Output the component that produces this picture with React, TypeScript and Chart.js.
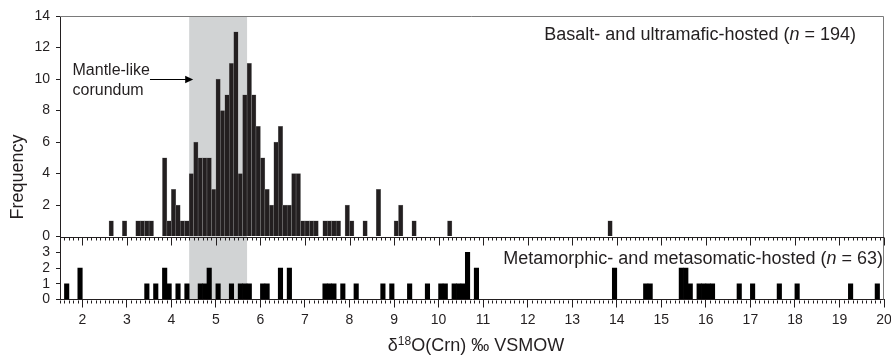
import React, { useEffect, useRef } from "react";
import { Chart, registerables } from "chart.js";

Chart.register(...registerables);

const FONT = '"Liberation Sans", Arial, Helvetica, sans-serif';
const INK = "#231f20";

// ---- data ----
const binWidth = 0.1;
const xRange = [1.5, 20];
const xTickLabels = [2, 3, 4, 5, 6, 7, 8, 9, 10, 11, 12, 13, 14, 15, 16, 17, 18, 19, 20];
const topTicks = [0, 2, 4, 6, 8, 10, 12, 14];
const bottomTicks = [0, 1, 2, 3];
const topRange = [0, 14];
const bottomRange = [0, 4];
const mantleRange = [4.4, 5.7];

const basaltBinStarts = [
  2.6, 2.9, 3.2, 3.3, 3.4, 3.5, 3.8, 3.9, 4.0, 4.1, 4.2, 4.3, 4.4, 4.5, 4.6, 4.7, 4.8, 4.9,
  5.0, 5.1, 5.2, 5.3, 5.4, 5.5, 5.6, 5.7, 5.8, 5.9, 6.0, 6.1, 6.2, 6.3, 6.4, 6.5, 6.6, 6.7,
  6.8, 6.9, 7.0, 7.1, 7.2, 7.4, 7.5, 7.6, 7.7, 7.9, 8.0, 8.3, 8.6, 9.0, 9.1, 9.4, 10.2, 13.8,
];
const basaltCounts = [
  1, 1, 1, 1, 1, 1, 5, 1, 3, 2, 1, 1, 4, 6, 5, 5, 5, 3,
  10, 8, 9, 11, 13, 4, 9, 11, 9, 7, 5, 3, 2, 6, 7, 2, 2, 4,
  4, 1, 1, 1, 1, 1, 1, 1, 1, 2, 1, 1, 3, 1, 2, 1, 1, 1,
];

const metaBinStarts = [
  1.6, 1.9, 3.4, 3.6, 3.8, 3.9, 4.1, 4.3, 4.6, 4.7, 4.8, 5.0, 5.3, 5.5, 5.6, 5.7, 6.0, 6.1,
  6.4, 6.6, 7.4, 7.5, 7.6, 7.8, 8.1, 8.7, 8.9, 9.3, 9.7, 10.0, 10.1, 10.3, 10.4, 10.5, 10.6,
  10.8, 13.9, 14.6, 14.7, 15.4, 15.5, 15.6, 15.8, 15.9, 16.0, 16.1, 16.7, 17.0, 17.6, 18.0,
  19.2, 19.8,
];
const metaCounts = [
  1, 2, 1, 1, 2, 1, 1, 1, 1, 1, 2, 1, 1, 1, 1, 1, 1, 1,
  2, 2, 1, 1, 1, 1, 1, 1, 1, 1, 1, 1, 1, 1, 1, 1, 3,
  2, 2, 1, 1, 2, 2, 1, 1, 1, 1, 1, 1, 1, 1, 1,
  1, 1,
];

const basaltLabel = ["Basalt- and ultramafic-hosted (", "n", " = 194)"];
const metaLabel = ["Metamorphic- and metasomatic-hosted (", "n", " = 63)"];
const mantleLabel = ["Mantle-like", "corundum"];
const yTitle = "Frequency";
const xTitle = ["δ", "18", "O(Crn) ‰ VSMOW"];

// ---- helpers ----
function drawRich(ctx: CanvasRenderingContext2D, parts: string[], x: number, y: number, size: number, align: "left" | "right") {
  const fonts = parts.map((_, i) => `${i === 1 ? "italic " : ""}${size}px ${FONT}`);
  const widths = parts.map((p, i) => {
    ctx.font = fonts[i];
    return ctx.measureText(p).width;
  });
  const total = widths.reduce((a, b) => a + b, 0);
  let cx = align === "right" ? x - total : x;
  ctx.textAlign = "left";
  ctx.textBaseline = "alphabetic";
  parts.forEach((p, i) => {
    ctx.font = fonts[i];
    ctx.fillText(p, cx, y);
    cx += widths[i];
  });
}

const decor = {
  id: "decor",
  beforeDraw(chart: any) {
    const { ctx, chartArea: a, scales } = chart;
    const x = scales.x;
    const x0 = x.getPixelForValue(mantleRange[0]);
    const x1 = x.getPixelForValue(mantleRange[1]);
    ctx.save();
    ctx.fillStyle = "#d1d3d4";
    ctx.fillRect(x0, a.top, x1 - x0, a.bottom - a.top);
    ctx.restore();
  },
  afterDatasetsDraw(chart: any) {
    const { ctx, chartArea: a, scales } = chart;
    const x = scales.x;
    const yTopZero = Math.round(scales.yTop.getPixelForValue(0)) + 0.5;
    const yBotZero = Math.round(scales.yBottom.getPixelForValue(0)) + 0.5;
    ctx.save();
    // frame top & right
    ctx.strokeStyle = "#7a7a7a";
    ctx.lineWidth = 1;
    ctx.beginPath();
    ctx.moveTo(a.left, Math.round(a.top) + 0.5);
    ctx.lineTo(Math.round(a.right) - 0.5, Math.round(a.top) + 0.5);
    ctx.lineTo(Math.round(a.right) - 0.5, a.bottom);
    ctx.stroke();
    // zero line of upper panel
    ctx.strokeStyle = INK;
    ctx.beginPath();
    ctx.moveTo(a.left, yTopZero);
    ctx.lineTo(a.right, yTopZero);
    ctx.stroke();
    // minor & major ticks
    const start = Math.round(xRange[0] / binWidth);
    const end = Math.round(xRange[1] / binWidth);
    ctx.beginPath();
    for (let i = start; i <= end; i++) {
      const v = i * binWidth;
      const px = Math.round(x.getPixelForValue(v)) + 0.5;
      const major = i % 10 === 0;
      ctx.moveTo(px, yTopZero);
      ctx.lineTo(px, yTopZero + (major ? 8 : 3));
      if (!major) {
        ctx.moveTo(px, yBotZero);
        ctx.lineTo(px, yBotZero + 3);
      }
    }
    ctx.stroke();
    ctx.restore();
  },
  afterDraw(chart: any) {
    const { ctx, chartArea: a, scales } = chart;
    const x = scales.x;
    const yT = scales.yTop;
    ctx.save();
    ctx.fillStyle = INK;
    // panel labels
    drawRich(ctx, basaltLabel, a.right - 28, a.top + 24, 18, "right");
    drawRich(ctx, metaLabel, a.right - 1, a.bottom - 36, 18, "right");
    // mantle-like annotation
    ctx.font = `16px ${FONT}`;
    ctx.textAlign = "left";
    ctx.textBaseline = "alphabetic";
    ctx.fillText(mantleLabel[0], 72.5, 75);
    ctx.fillText(mantleLabel[1], 72.5, 95);
    const ay = Math.round(yT.getPixelForValue(10)) + 0.5;
    const ax0 = x.getPixelForValue(3.52);
    const ax1 = x.getPixelForValue(4.49);
    ctx.strokeStyle = "#000";
    ctx.lineWidth = 1.2;
    ctx.beginPath();
    ctx.moveTo(ax0, ay);
    ctx.lineTo(ax1 - 6, ay);
    ctx.stroke();
    ctx.fillStyle = "#000";
    ctx.beginPath();
    ctx.moveTo(ax1, ay);
    ctx.lineTo(ax1 - 8, ay - 3.8);
    ctx.lineTo(ax1 - 8, ay + 3.8);
    ctx.closePath();
    ctx.fill();
    // y title
    ctx.fillStyle = INK;
    ctx.save();
    ctx.translate(18, 177);
    ctx.rotate(-Math.PI / 2);
    ctx.font = `18px ${FONT}`;
    ctx.textAlign = "center";
    ctx.textBaseline = "middle";
    ctx.fillText(yTitle, 0, 0);
    ctx.restore();
    // x title with superscript
    const mainFont = `18px ${FONT}`;
    const supFont = `12px ${FONT}`;
    ctx.font = mainFont;
    const w0 = ctx.measureText(xTitle[0]).width;
    const w2 = ctx.measureText(xTitle[2]).width;
    ctx.font = supFont;
    const w1 = ctx.measureText(xTitle[1]).width;
    const total = w0 + w1 + w2;
    let cx = (a.left + a.right) / 2 + 4 - total / 2;
    const base = 350.5;
    ctx.textAlign = "left";
    ctx.textBaseline = "alphabetic";
    ctx.font = mainFont;
    ctx.fillText(xTitle[0], cx, base);
    cx += w0;
    ctx.font = supFont;
    ctx.fillText(xTitle[1], cx, base - 6);
    cx += w1;
    ctx.font = mainFont;
    ctx.fillText(xTitle[2], cx, base);
    ctx.restore();
  },
};

export default function App() {
  const ref = useRef<HTMLCanvasElement | null>(null);

  useEffect(() => {
    if (!ref.current) return;
    const tickFont = { family: FONT, size: 14 };
    const chart = new Chart(ref.current, {
      type: "bar",
      data: {
        datasets: [
          {
            label: "Basalt- and ultramafic-hosted",
            data: basaltBinStarts.map((s, i) => ({ x: s + binWidth / 2, y: basaltCounts[i] })),
            yAxisID: "yTop",
            xAxisID: "x",
            backgroundColor: INK,
            borderColor: "#8c8c8c",
            borderWidth: 0.5,
            barPercentage: 1,
            categoryPercentage: 1,
            grouped: false,
          } as any,
          {
            label: "Metamorphic- and metasomatic-hosted",
            data: metaBinStarts.map((s, i) => ({ x: s + binWidth / 2, y: metaCounts[i] })),
            yAxisID: "yBottom",
            xAxisID: "x",
            backgroundColor: "#000000",
            borderWidth: 0,
            barPercentage: 1,
            categoryPercentage: 1,
            grouped: false,
          } as any,
        ],
      },
      options: {
        responsive: false,
        animation: false,
        devicePixelRatio: 1,
        events: [],
        layout: { padding: { left: 0, right: 7, top: 16, bottom: 0 } },
        plugins: { legend: { display: false }, tooltip: { enabled: false } },
        scales: {
          x: {
            type: "linear",
            position: "bottom",
            min: xRange[0],
            max: xRange[1],
            offset: false,
            afterBuildTicks: (s: any) => {
              s.ticks = xTickLabels.map((v) => ({ value: v }));
            },
            afterFit: (s: any) => {
              s.height = 56.5;
              s.paddingLeft = 0;
              s.paddingRight = 0;
            },
            ticks: { color: INK, font: tickFont, padding: 4, maxRotation: 0, autoSkip: false },
            grid: { display: true, drawOnChartArea: false, drawTicks: true, tickLength: 8, color: INK, offset: false },
            border: { display: true, color: INK },
          },
          yBottom: {
            type: "linear",
            position: "left",
            stack: "panels",
            stackWeight: 4,
            min: bottomRange[0],
            max: bottomRange[1],
            afterBuildTicks: (s: any) => {
              s.ticks = bottomTicks.map((v) => ({ value: v }));
            },
            afterFit: (s: any) => {
              s.width = 60;
            },
            ticks: { color: INK, font: tickFont, padding: 6, autoSkip: false },
            grid: { display: true, drawOnChartArea: false, drawTicks: true, tickLength: 4, color: INK },
            border: { display: true, color: INK },
          },
          yTop: {
            type: "linear",
            position: "left",
            stack: "panels",
            stackWeight: 14,
            min: topRange[0],
            max: topRange[1],
            afterBuildTicks: (s: any) => {
              s.ticks = topTicks.map((v) => ({ value: v }));
            },
            afterFit: (s: any) => {
              s.width = 60;
            },
            ticks: { color: INK, font: tickFont, padding: 6, autoSkip: false },
            grid: { display: true, drawOnChartArea: false, drawTicks: true, tickLength: 4, color: INK },
            border: { display: true, color: INK },
          },
        } as any,
      },
      plugins: [decor],
    });
    return () => chart.destroy();
  }, []);

  return (
    <div style={{ position: "absolute", left: 0, top: 0, width: 891, height: 356, background: "#fff" }}>
      <canvas ref={ref} width={891} height={356} style={{ display: "block" }} />
    </div>
  );
}
